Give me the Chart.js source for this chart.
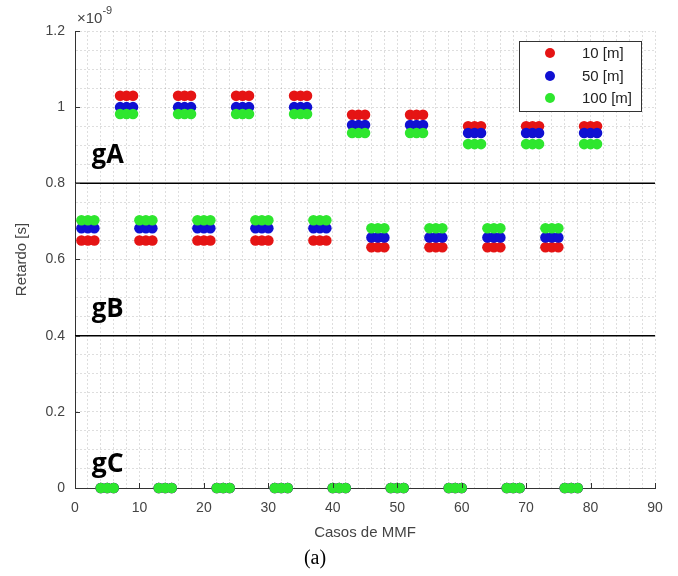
<!DOCTYPE html>
<html>
<head>
<meta charset="utf-8">
<script src="https://cdn.jsdelivr.net/npm/chart.js@4.4.1/dist/chart.umd.min.js"></script>
<style>
  html, body { margin: 0; padding: 0; background: #fff; }
</style>
</head>
<body>
<canvas id="chart" width="678" height="576"></canvas>
<script>
// Retardo en unidades de 1e-9 s (el eje muestra "x10^-9")
const casosGA = [7, 8, 9, 16, 17, 18, 25, 26, 27, 34, 35, 36, 43, 44, 45, 52, 53, 54, 61, 62, 63, 70, 71, 72, 79, 80, 81]
const gA10 = [1.03, 1.03, 1.03, 1.03, 1.03, 1.03, 1.03, 1.03, 1.03, 1.03, 1.03, 1.03, 0.98, 0.98, 0.98, 0.98, 0.98, 0.98, 0.95, 0.95, 0.95, 0.95, 0.95, 0.95, 0.95, 0.95, 0.95]
const gA50 = [1.00, 1.00, 1.00, 1.00, 1.00, 1.00, 1.00, 1.00, 1.00, 1.00, 1.00, 1.00, 0.953, 0.953, 0.953, 0.953, 0.953, 0.953, 0.932, 0.932, 0.932, 0.932, 0.932, 0.932, 0.932, 0.932, 0.932]
const gA100 = [0.982, 0.982, 0.982, 0.982, 0.982, 0.982, 0.982, 0.982, 0.982, 0.982, 0.982, 0.982, 0.932, 0.932, 0.932, 0.932, 0.932, 0.932, 0.903, 0.903, 0.903, 0.903, 0.903, 0.903, 0.903, 0.903, 0.903]

const casosGB = [1, 2, 3, 10, 11, 12, 19, 20, 21, 28, 29, 30, 37, 38, 39, 46, 47, 48, 55, 56, 57, 64, 65, 66, 73, 74, 75]
const gB10 = [0.65, 0.65, 0.65, 0.65, 0.65, 0.65, 0.65, 0.65, 0.65, 0.65, 0.65, 0.65, 0.65, 0.65, 0.65, 0.632, 0.632, 0.632, 0.632, 0.632, 0.632, 0.632, 0.632, 0.632, 0.632, 0.632, 0.632]
const gB50 = [0.682, 0.682, 0.682, 0.682, 0.682, 0.682, 0.682, 0.682, 0.682, 0.682, 0.682, 0.682, 0.682, 0.682, 0.682, 0.658, 0.658, 0.658, 0.658, 0.658, 0.658, 0.658, 0.658, 0.658, 0.658, 0.658, 0.658]
const gB100 = [0.703, 0.703, 0.703, 0.703, 0.703, 0.703, 0.703, 0.703, 0.703, 0.703, 0.703, 0.703, 0.703, 0.703, 0.703, 0.682, 0.682, 0.682, 0.682, 0.682, 0.682, 0.682, 0.682, 0.682, 0.682, 0.682, 0.682]

const casosGC = [4, 5, 6, 13, 14, 15, 22, 23, 24, 31, 32, 33, 40, 41, 42, 49, 50, 51, 58, 59, 60, 67, 68, 69, 76, 77, 78]
const gC10 = [0, 0, 0, 0, 0, 0, 0, 0, 0, 0, 0, 0, 0, 0, 0, 0, 0, 0, 0, 0, 0, 0, 0, 0, 0, 0, 0]
const gC50 = [0, 0, 0, 0, 0, 0, 0, 0, 0, 0, 0, 0, 0, 0, 0, 0, 0, 0, 0, 0, 0, 0, 0, 0, 0, 0, 0]
const gC100 = [0, 0, 0, 0, 0, 0, 0, 0, 0, 0, 0, 0, 0, 0, 0, 0, 0, 0, 0, 0, 0, 0, 0, 0, 0, 0, 0]

const seriesLabels = ['10 [m]', '50 [m]', '100 [m]']
const seriesColors = ['#e51414', '#1010d2', '#2ee62e']
const separadores = [0.8, 0.4]
const grupos = [
  { text: 'gA', x: 2.6, y: 0.853 },
  { text: 'gB', x: 2.6, y: 0.45 },
  { text: 'gC', x: 2.6, y: 0.042 }
]
const xTicksMajor = 10
const yTicksMajor = 0.2

const FONT = "'Liberation Sans', Arial, sans-serif"

function toPoints(xs, ys) {
  return xs.map((x, i) => ({ x, y: ys[i] }))
}

function joinGroups(a, b, c) {
  return [
    ...toPoints(casosGA, a),
    ...toPoints(casosGB, b),
    ...toPoints(casosGC, c)
  ]
}

const seriesData = [
  joinGroups(gA10, gB10, gC10),
  joinGroups(gA50, gB50, gC50),
  joinGroups(gA100, gB100, gC100)
]

const scatterSets = seriesData.map((data, i) => ({
  type: 'scatter',
  label: seriesLabels[i],
  data,
  backgroundColor: seriesColors[i],
  borderColor: seriesColors[i],
  borderWidth: 0,
  pointRadius: 5.3,
  pointHoverRadius: 5.3,
  clip: false,
  order: 3 - i
}))

const lineSets = separadores.map(v => ({
  type: 'line',
  label: 'sep',
  data: [{ x: 0, y: v }, { x: 90, y: v }],
  borderColor: '#000',
  borderWidth: 1.5,
  pointRadius: 0,
  order: 10
}))

function isMultiple(v, step) {
  const r = v / step
  return Math.abs(r - Math.round(r)) < 1e-6
}

const decorPlugin = {
  id: 'decor',
  afterDatasetsDraw(chart) {
    const { ctx, chartArea: a, scales: { x, y } } = chart
    ctx.save()
    // inward tick marks
    ctx.strokeStyle = '#333'
    ctx.lineWidth = 1
    ctx.beginPath()
    for (let v = 10; v <= 90; v += xTicksMajor) {
      const px = Math.round(x.getPixelForValue(v)) + 0.5
      ctx.moveTo(px, a.bottom)
      ctx.lineTo(px, a.bottom - 5)
    }
    for (let k = 1; k <= 6; k += 1) {
      const py = Math.round(y.getPixelForValue(k * yTicksMajor)) + 0.5
      ctx.moveTo(a.left, py)
      ctx.lineTo(a.left + 5, py)
    }
    ctx.stroke()

    // group labels
    ctx.fillStyle = '#000'
    ctx.font = "bold 26px 'Open Sans', sans-serif"
    ctx.textBaseline = 'alphabetic'
    ctx.textAlign = 'left'
    grupos.forEach(g => {
      const w = ctx.measureText(g.text).width
      const sx = 32 / w
      ctx.save()
      ctx.translate(x.getPixelForValue(g.x), y.getPixelForValue(g.y))
      ctx.scale(sx, 1)
      ctx.fillText(g.text, 0, 0)
      ctx.restore()
    })

    // exponent
    ctx.fillStyle = '#444'
    ctx.font = '15px ' + FONT
    ctx.fillText('\u00d710', a.left + 2, a.top - 8)
    const bw = ctx.measureText('\u00d710').width
    ctx.font = '11px ' + FONT
    ctx.fillText('-9', a.left + 2 + bw, a.top - 17)

    // legend
    const lx = 519.5, ly = 41.5, lw = 122, lh = 70
    ctx.fillStyle = '#fff'
    ctx.fillRect(lx, ly, lw, lh)
    ctx.strokeStyle = '#333'
    ctx.lineWidth = 1
    ctx.strokeRect(lx, ly, lw, lh)
    const rows = [53, 76, 98]
    ctx.font = '15px ' + FONT
    ctx.textBaseline = 'middle'
    seriesLabels.forEach((lab, i) => {
      ctx.fillStyle = seriesColors[i]
      ctx.beginPath()
      ctx.arc(550, rows[i], 5, 0, Math.PI * 2)
      ctx.fill()
      ctx.fillStyle = '#222'
      ctx.fillText(lab, 582, rows[i] + 1)
    })

    // figure caption
    ctx.fillStyle = '#000'
    ctx.font = "20px 'Liberation Serif', 'Times New Roman', serif"
    ctx.textAlign = 'center'
    ctx.fillText('(a)', 315, 559)
    ctx.restore()
  }
}

new Chart(document.getElementById('chart'), {
  data: { datasets: [...scatterSets, ...lineSets] },
  options: {
    responsive: false,
    animation: false,
    layout: { padding: { left: 9, right: 23, top: 31, bottom: 30 } },
    plugins: {
      legend: { display: false },
      tooltip: { enabled: false }
    },
    scales: {
      x: {
        type: 'linear',
        min: 0,
        max: 90,
        afterFit(scale) { scale.height = 58 },
        ticks: {
          stepSize: 2,
          autoSkip: false,
          maxRotation: 0,
          padding: 12,
          color: '#444',
          font: { family: FONT, size: 14 },
          callback: v => (isMultiple(v, xTicksMajor) ? String(Math.round(v)) : '')
        },
        grid: { color: 'rgba(0,0,0,0.13)', lineWidth: 1, drawTicks: false },
        border: { display: true, color: '#333', width: 1, dash: [2, 2] },
        title: {
          display: true,
          text: 'Casos de MMF',
          color: '#444',
          font: { family: FONT, size: 15 }
        }
      },
      y: {
        type: 'linear',
        min: 0,
        max: 1.2,
        afterFit(scale) { scale.width = 66 },
        ticks: {
          stepSize: 0.05,
          autoSkip: false,
          padding: 10,
          color: '#444',
          font: { family: FONT, size: 14 },
          callback: v => (isMultiple(v, yTicksMajor) ? String(Number(v.toFixed(2))) : '')
        },
        grid: { color: 'rgba(0,0,0,0.13)', lineWidth: 1, drawTicks: false },
        border: { display: true, color: '#333', width: 1, dash: [2, 2] },
        title: {
          display: true,
          text: 'Retardo [s]',
          color: '#444',
          font: { family: FONT, size: 15 }
        }
      }
    }
  },
  plugins: [decorPlugin]
})
</script>
</body>
</html>
